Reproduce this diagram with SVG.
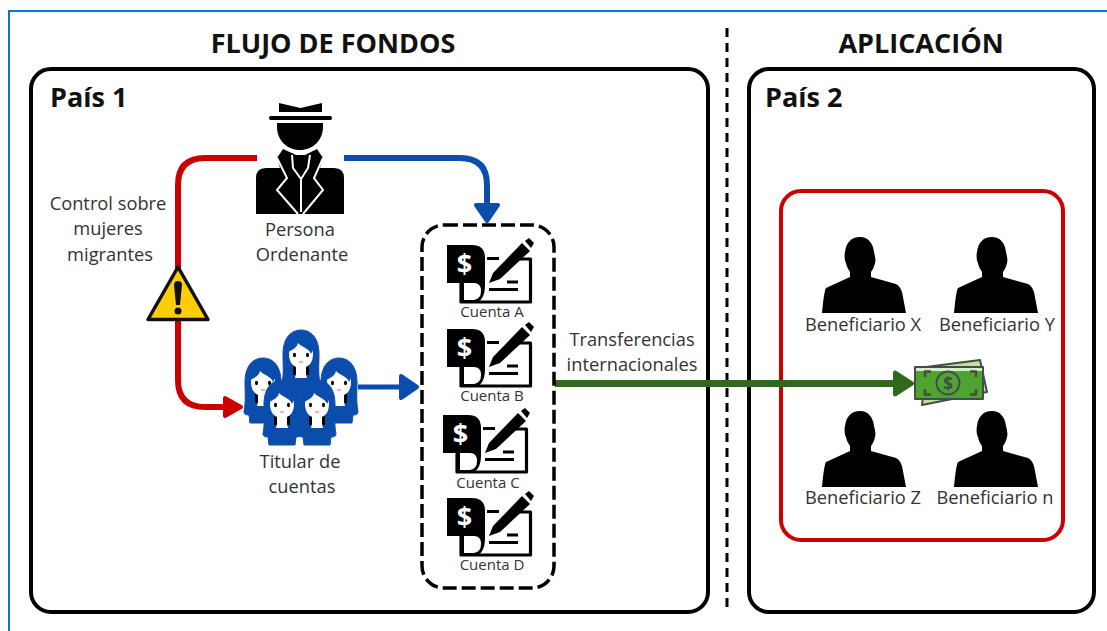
<svg xmlns="http://www.w3.org/2000/svg" xmlns:xlink="http://www.w3.org/1999/xlink" width="1107" height="631" viewBox="0 0 1107 631">
<style>
text{font-family:"Open Sans","Noto Sans",sans-serif;fill:#333;text-anchor:middle}
.l{font-size:18.300px}.c{font-size:15px}
.h{font-size:27px;font-weight:700;fill:#111}
.p{font-size:27px;font-weight:700;fill:#111;text-anchor:start}
.panel{fill:#fff;stroke:#000;stroke-width:4}
.k{fill:none;stroke-linejoin:round}
</style>
<defs>
<marker id="ar" viewBox="0 0 22 24" refX="2" refY="12" markerWidth="22" markerHeight="24" markerUnits="userSpaceOnUse" orient="auto"><path d="M3 3L19 12L3 21Z" fill="#c00" stroke="#c00" stroke-width="4" stroke-linejoin="round"/></marker>
<marker id="ab" viewBox="0 0 22 28" refX="2" refY="14" markerWidth="22" markerHeight="28" markerUnits="userSpaceOnUse" orient="auto"><path d="M3 3L19 14L3 25Z" fill="#0b4dad" stroke="#0b4dad" stroke-width="4" stroke-linejoin="round"/></marker>
<marker id="ag" viewBox="0 0 22 28" refX="2" refY="14" markerWidth="22" markerHeight="28" markerUnits="userSpaceOnUse" orient="auto"><path d="M3 3L20 14L3 25Z" fill="#31691c" stroke="#31691c" stroke-width="4" stroke-linejoin="round"/></marker>
<g id="woman">
<path d="M-18 24C-18 8-10 0 0 0S18 8 18 24C18 36 17 42 19 54Q19 57 14 57L13 65H-13L-14 57Q-19 57-19 54C-17 42-18 36-18 24Z" fill="#0b4dad" stroke="#0b4dad" stroke-width="1"/>
<path d="M-8 33H8V45H-8Z" fill="#000"/>
<path d="M-5 36H5V44L6 48H-6L-5 44Z" fill="#fff"/>
<path d="M-12 24C-12 16-7 12 0 12S12 16 12 24C12 33 7 38 0 38S-12 33-12 24Z" fill="#fff"/>
<path d="M-13 22C-9 20-4 18-3 13C2 18 8 18 10 24L14 16L6 7H-7L-14 16Z" fill="#0b4dad"/>
<ellipse cx="-6.500" cy="25" rx="1.500" ry="2.200" fill="#000"/><ellipse cx="6.500" cy="25" rx="1.500" ry="2.200" fill="#000"/>
<path d="M-2 32H2" stroke="#e66" stroke-width="1"/>
</g>
<g id="cheque">
<path d="M461 282V302H530.500V259H515M487 258.500H499" fill="none" stroke="#000" stroke-width="3.200" stroke-linejoin="round"/>
<path d="M447 245H472Q485 245 485 258V285Q485 303 472 303H460V283H447Z" fill="#000"/>
<path d="M464 283H474Q481 283 481 291Q481 299 474 300H464Z" fill="#fff"/>
<path d="M489 289.500H518M507 282H518" stroke="#000" stroke-width="3" fill="none"/>
<path d="M489 283L493 273L522 243L530 251L500 279Z" fill="#000"/>
<path d="M525 241L529 238L534 243L531 248Z" fill="#000"/>
<text x="464.500" y="273" style="font-size:27px;font-weight:700;fill:#fff">$</text>
</g>
<path id="person" d="M860 237C851 237 846 243 845 252C844 256 845 262 846 263C847 268 849 270 850 272L850 277L826 288Q824 291 822 313H906L902 292Q900 286 896 284L871 277L871 272C873 269 874 267 875 263C876 260 875 256 874 252C873 243 868 237 860 237Z" fill="#000"/>
</defs>
<rect width="1107" height="631" fill="#fff"/>
<path d="M9 631V11H1107" fill="none" stroke="#0a78c8" stroke-width="2"/>
<text class="h" x="333" y="53">FLUJO DE FONDOS</text>
<text class="h" x="921" y="53">APLICACIÓN</text>
<line x1="727" y1="28" x2="727" y2="613" stroke="#000" stroke-width="3" stroke-dasharray="9 6"/>
<g id="pais1"><rect class="panel" x="31" y="69" width="677" height="543" rx="20"/><text class="p" x="50" y="107">País 1</text></g>
<g id="pais2"><rect class="panel" x="749" y="69" width="345" height="543" rx="20"/><text class="p" x="765" y="107">País 2</text></g>
<g id="aplicacion"><rect x="781" y="191" width="282" height="349" rx="20" fill="none" stroke="#c00" stroke-width="4"/></g>
<g id="connectors">
<path class="k" d="M257 158H205Q178 158 178 185V380Q178 407 205 407H224" stroke="#c00" stroke-width="6" marker-end="url(#ar)"/>
<path class="k" d="M344 158H460Q487 158 487 185V204" stroke="#0b4dad" stroke-width="6" marker-end="url(#ab)"/>
<path class="k" d="M358 387H400" stroke="#0b4dad" stroke-width="5" marker-end="url(#ab)"/>
<path class="k" d="M555 383.500H894" stroke="#31691c" stroke-width="7" marker-end="url(#ag)"/>
</g>
<g id="persona-ordenante">
<path d="M279 103L300.500 108L322 103V112H279ZM270 116H331Q333 118 331 120H270Q268 118 270 116ZM277 123H323V127C323 140 313 150 300 150S277 140 277 127Z" fill="#000"/>
<path d="M256 214V178Q256 168 266 168H280L277 158L283 149L296 155H305L317 149L323 158L320 168H334Q344 168 344 178V214Z" fill="#000"/>
<path d="M277 158L287 178L277 190L298 214M323 158L314 178L323 190L303 214M301 179V212M292 155L293 168L301 179L308 168L310 155" fill="none" stroke="#fff" stroke-width="2"/>
<text class="l" x="300" y="236">Persona</text><text class="l" x="302" y="261">Ordenante</text>
</g>
<g id="control"><text class="l" x="108" y="210">Control sobre</text><text class="l" x="108" y="235">mujeres</text><text class="l" x="110" y="261">migrantes</text>
<path d="M178 267L208 319.500H148Z" fill="#fbce07" stroke="#111" stroke-width="3.500" stroke-linejoin="round"/>
<path d="M178 281Q182 281 182 285L180 305H176L174 285Q174 281 178 281Z" fill="#111"/><circle cx="178" cy="311" r="3.500" fill="#111"/>
</g>
<g id="titular">
<use xlink:href="#woman" href="#woman" x="301" y="330"/>
<use xlink:href="#woman" href="#woman" x="263" y="358"/>
<use xlink:href="#woman" href="#woman" x="339" y="358"/>
<use xlink:href="#woman" href="#woman" x="282" y="380"/>
<use xlink:href="#woman" href="#woman" x="317" y="380"/>
<text class="l" x="300" y="468">Titular de</text><text class="l" x="302" y="493">cuentas</text>
</g>
<g id="cuentas">
<rect x="422" y="225" width="132" height="363" rx="22" fill="none" stroke="#000" stroke-width="3.500" stroke-dasharray="14 5"/>
<use xlink:href="#cheque" href="#cheque"/><text class="c" x="492" y="317">Cuenta A</text>
<use xlink:href="#cheque" href="#cheque" y="84"/><text class="c" x="492" y="401">Cuenta B</text>
<use xlink:href="#cheque" href="#cheque" x="-4" y="170"/><text class="c" x="488" y="488">Cuenta C</text>
<use xlink:href="#cheque" href="#cheque" y="253"/><text class="c" x="492" y="570">Cuenta D</text>
</g>
<g id="transferencias"><text class="l" x="632" y="346">Transferencias</text><text class="l" x="632" y="371">internacionales</text></g>
<g id="beneficiario-x"><use xlink:href="#person" href="#person"/><text class="l" x="863" y="331">Beneficiario X</text></g>
<g id="beneficiario-y"><use xlink:href="#person" href="#person" x="132"/><text class="l" x="997" y="331">Beneficiario Y</text></g>
<g id="beneficiario-z"><use xlink:href="#person" href="#person" y="174"/><text class="l" x="863" y="504">Beneficiario Z</text></g>
<g id="beneficiario-n"><use xlink:href="#person" href="#person" x="132" y="174"/><text class="l" x="995" y="504">Beneficiario n</text></g>
<g id="dinero" stroke="#444c4c" stroke-width="2" stroke-linejoin="round">
<path d="M926 367L980 360L987 392L922 405Z" fill="#bfe29a"/>
<rect x="915" y="367" width="68" height="32" fill="#4fa32f"/>
<rect x="916" y="368" width="66" height="3" fill="#d8eec8" stroke="none"/>
<circle cx="948" cy="383" r="11.500" fill="#4fa32f"/>
<path d="M925 377V371.500H931M970 371.500H976V377M925 389V394.500H931M976 389V394.500H970" fill="none" stroke-width="2.500"/>
<text x="948" y="389.500" style="font-size:17px;font-weight:700;fill:#444c4c" stroke="none">$</text>
</g>
</svg>
